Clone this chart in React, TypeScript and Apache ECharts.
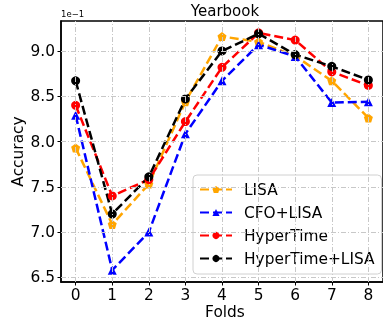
import React, { useEffect, useRef } from "react";
import * as echarts from "echarts";

const folds = [0, 1, 2, 3, 4, 5, 6, 7, 8];
const lisa = [7.93, 7.085, 7.53, 8.44, 9.16, 9.1, 8.945, 8.67, 8.26];
const cfoLisa = [8.29, 6.58, 7.0, 8.085, 8.67, 9.07, 8.94, 8.43, 8.44];
const hyperTime = [8.4, 7.4, 7.58, 8.22, 8.82, 9.2, 9.12, 8.77, 8.62];
const hyperTimeLisa = [8.67, 7.2, 7.61, 8.47, 9.0, 9.19, 8.96, 8.83, 8.68];
const yTicks = [6.5, 7.0, 7.5, 8.0, 8.5, 9.0];
const seriesNames = ["LISA", "CFO+LISA", "HyperTime", "HyperTime+LISA"];

const FONT = "DejaVu Sans";
const FS = 15.4;
const pentagon =
  "path://M0,-1 L0.951,-0.309 L0.588,0.809 L-0.588,0.809 L-0.951,-0.309 Z";

export default function App() {
  const ref = useRef<HTMLDivElement>(null);
  useEffect(() => {
    document.body.style.margin = "0";
    const chart = echarts.init(ref.current!, null, { renderer: "svg" });
    const all = [...lisa, ...cfoLisa, ...hyperTime, ...hyperTimeLisa];
    const dMin = Math.min(...all);
    const dMax = Math.max(...all);
    const pad = (dMax - dMin) * 0.05;
    const xPad = (folds[folds.length - 1] - folds[0]) * 0.05;

    const mk = (name: string, vals: number[], color: string, symbol: string) => ({
      name,
      type: "line",
      data: folds.map((f, i) => [f, vals[i]]),
      symbol,
      symbolSize: 9,
      showSymbol: true,
      lineStyle: { color, width: 2.5, type: [9, 4] },
      itemStyle: { color, borderWidth: 0 },
      z: 3,
    });

    const gridColor = "#c8c8c8";
    chart.setOption({
      animation: false,
      textStyle: { fontFamily: FONT },
      grid: {
        left: 61,
        top: 21,
        right: -6,
        bottom: 38,
        show: true,
        borderColor: "#000",
        borderWidth: 1.5,
        backgroundColor: "transparent",
      },
      xAxis: {
        type: "value",
        min: folds[0] - xPad,
        max: folds[folds.length - 1] + xPad,
        axisLine: { show: true, onZero: false, lineStyle: { color: "#000", width: 1.5 } },
        axisTick: {
          show: true,
          customValues: folds,
          length: 3.5,
          lineStyle: { color: "#000", width: 1 },
        },
        axisLabel: {
          customValues: folds,
          color: "#000",
          fontSize: FS,
          fontFamily: FONT,
          margin: 5,
        },
        splitLine: { show: false },
      },
      yAxis: {
        type: "value",
        min: dMin - pad,
        max: dMax + pad,
        axisLine: { show: true, onZero: false, lineStyle: { color: "#000", width: 1.5 } },
        axisTick: {
          show: true,
          customValues: yTicks,
          length: 3.5,
          lineStyle: { color: "#000", width: 1 },
        },
        axisLabel: {
          customValues: yTicks,
          color: "#000",
          fontSize: FS,
          fontFamily: FONT,
          margin: 6,
          formatter: (v: number) => v.toFixed(1),
        },
        splitLine: { show: false },
      },
      legend: {
        orient: "vertical",
        left: 193,
        top: 175,
        data: seriesNames,
        itemWidth: 32,
        itemHeight: 9,
        itemGap: 6,
        padding: [6, 7, 7, 6],
        borderColor: "#d0d0d0",
        borderWidth: 1,
        borderRadius: 4,
        backgroundColor: "rgba(255,255,255,0.85)",
        textStyle: {
          fontSize: FS,
          fontFamily: FONT,
          color: "#000",
          lineHeight: 17,
          padding: [0, 0, 0, 7],
        },
      },
      graphic: [
        {
          type: "text",
          x: 225,
          y: 11,
          style: {
            text: "Yearbook",
            fontSize: 15,
            fontFamily: FONT,
            fill: "#000",
            textAlign: "center",
            textVerticalAlign: "middle",
          },
        },
        {
          type: "text",
          x: 61,
          y: 14,
          style: {
            text: "1e\u22121",
            fontSize: 8.5,
            fontFamily: FONT,
            fill: "#000",
            textAlign: "left",
            textVerticalAlign: "middle",
          },
        },
        {
          type: "text",
          x: 225,
          y: 312,
          style: {
            text: "Folds",
            fontSize: FS,
            fontFamily: FONT,
            fill: "#000",
            textAlign: "center",
            textVerticalAlign: "middle",
          },
        },
        {
          type: "text",
          x: 18,
          y: 151.5,
          rotation: Math.PI / 2,
          style: {
            text: "Accuracy",
            fontSize: FS,
            fontFamily: FONT,
            fill: "#000",
            textAlign: "center",
            textVerticalAlign: "middle",
          },
        },
      ],
      series: [
        {
          name: "grid",
          type: "line",
          data: [],
          silent: true,
          z: 1,
          markLine: {
            silent: true,
            symbol: "none",
            label: { show: false },
            lineStyle: { color: gridColor, width: 1, type: [5, 2, 1, 2] },
            data: [
              ...folds.map((f) => ({ xAxis: f })),
              ...yTicks.map((t) => ({ yAxis: t })),
            ],
          },
        },
        mk("LISA", lisa, "#FFA500", pentagon),
        mk("CFO+LISA", cfoLisa, "#0000FF", "triangle"),
        mk("HyperTime", hyperTime, "#FF0000", "circle"),
        mk("HyperTime+LISA", hyperTimeLisa, "#000000", "circle"),
      ],
    });
    return () => chart.dispose();
  }, []);
  return (
    <div
      ref={ref}
      style={{ position: "fixed", left: 0, top: 0, width: 383, height: 320 }}
    />
  );
}
